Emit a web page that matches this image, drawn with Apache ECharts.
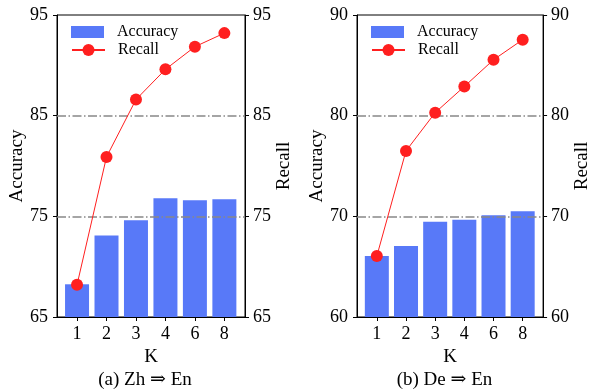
<!DOCTYPE html>
<html>
<head>
<meta charset="utf-8">
<script src="https://cdn.jsdelivr.net/npm/echarts@6/dist/echarts.min.js"></script>
<style>
  html, body { margin: 0; padding: 0; background: #fff; }
  #chart { width: 593px; height: 392px; }
</style>
</head>
<body>
<div id="chart"></div>
<script>
const kLabels = ['1', '2', '3', '4', '6', '8']

// (a) Zh => En
const zhAccuracy = [68.25, 73.1, 74.6, 76.8, 76.6, 76.7]
const zhRecall = [68.2, 80.9, 86.6, 89.6, 91.85, 93.2]
const zhTicks = [65, 75, 85, 95]

// (b) De => En
const deAccuracy = [66.05, 67.05, 69.45, 69.65, 70.1, 70.5]
const deRecall = [66.05, 76.5, 80.3, 82.9, 85.55, 87.55]
const deTicks = [60, 70, 80, 90]

const captions = ['(a) Zh \u21D2 En', '(b) De \u21D2 En']

const font = "'Liberation Serif', 'DejaVu Serif', serif"
const tickSize = 18
const nameSize = 19
const legendSize = 16
const barColor = '#5879f8'
const lineColor = '#ff1f1f'

const chart = echarts.init(document.getElementById('chart'))

function toPoints (values) {
  return values.map((v, i) => [i, v])
}

function yAxis (idx, ticks, name, pos, gap, margin) {
  return {
    type: 'value',
    gridIndex: idx,
    position: pos,
    min: ticks[0],
    max: ticks[ticks.length - 1],
    interval: ticks[1] - ticks[0],
    name: name,
    nameLocation: 'middle',
    nameRotate: 90,
    nameGap: gap,
    nameTextStyle: { fontFamily: font, fontSize: nameSize, color: '#000' },
    axisLine: { show: true, onZero: false, lineStyle: { color: '#000', width: 1 } },
    axisTick: { show: true, length: 4, lineStyle: { color: '#000' } },
    axisLabel: { margin: margin, fontFamily: font, fontSize: tickSize, color: '#000' },
    splitLine: { show: false }
  }
}

const grids = [
  { left: 57, top: 15, width: 188, height: 302 },
  { left: 357, top: 15, width: 187, height: 302 }
]
const panels = [
  { acc: zhAccuracy, rec: zhRecall, ticks: zhTicks },
  { acc: deAccuracy, rec: deRecall, ticks: deTicks }
]

const legendText = { fontFamily: font, fontSize: legendSize, color: '#000', padding: [0, 0, 0, 8] }

const option = {
  animation: false,
  grid: grids.map(g => Object.assign({
    show: true, borderColor: '#000', borderWidth: 1, backgroundColor: 'transparent'
  }, g)),
  xAxis: panels.map((p, idx) => ({
    type: 'value',
    gridIndex: idx,
    min: -0.68,
    max: 5.7,
    name: 'K',
    nameLocation: 'middle',
    nameGap: 30,
    nameTextStyle: { fontFamily: font, fontSize: nameSize, color: '#000' },
    axisLine: { show: true, onZero: false, lineStyle: { color: '#000', width: 1 } },
    axisTick: { show: true, length: 4, customValues: [0, 1, 2, 3, 4, 5], lineStyle: { color: '#000' } },
    axisLabel: {
      margin: 8,
      customValues: [0, 1, 2, 3, 4, 5],
      formatter: v => kLabels[Math.round(v)],
      fontFamily: font, fontSize: tickSize, color: '#000'
    },
    splitLine: { show: false }
  })),
  yAxis: [
    yAxis(0, zhTicks, 'Accuracy', 'left', 28, 9),
    yAxis(0, zhTicks, 'Recall', 'right', 25, 8),
    yAxis(1, deTicks, 'Accuracy', 'left', 28, 9),
    yAxis(1, deTicks, 'Recall', 'right', 25, 8)
  ],
  legend: [],
  graphic: grids.map((g, idx) => ({
    type: 'text',
    x: g.left + g.width / 2 - 6,
    y: 380,
    style: {
      text: captions[idx],
      fontFamily: font,
      fontSize: nameSize,
      fill: '#000',
      align: 'center',
      verticalAlign: 'middle'
    }
  })),
  series: []
}

grids.forEach(g => {
  option.legend.push({
    left: g.left + 14,
    top: 24,
    padding: 0,
    itemWidth: 33,
    itemHeight: 12,
    data: [{ name: 'Accuracy', icon: 'rect' }],
    selectedMode: false,
    textStyle: legendText
  })
  option.legend.push({
    left: g.left + 14,
    top: 42,
    padding: 0,
    itemWidth: 33,
    itemHeight: 15,
    data: ['Recall'],
    selectedMode: false,
    textStyle: legendText
  })
})

panels.forEach((p, idx) => {
  const midTicks = p.ticks.slice(1, -1)
  option.series.push({
    name: 'Accuracy',
    type: 'bar',
    xAxisIndex: idx,
    yAxisIndex: idx * 2,
    barWidth: 24,
    itemStyle: { color: barColor },
    data: toPoints(p.acc),
    markLine: {
      silent: true,
      symbol: 'none',
      label: { show: false },
      lineStyle: { color: '#888', width: 1.5, type: [9, 2.5, 1.5, 2.5] },
      data: midTicks.map(t => ({ yAxis: t }))
    }
  })
  option.series.push({
    name: 'Recall',
    type: 'line',
    xAxisIndex: idx,
    yAxisIndex: idx * 2 + 1,
    z: 10,
    symbol: 'circle',
    symbolSize: 12,
    lineStyle: { color: lineColor, width: 1 },
    itemStyle: { color: lineColor },
    data: toPoints(p.rec)
  })
})

chart.setOption(option)
</script>
</body>
</html>
